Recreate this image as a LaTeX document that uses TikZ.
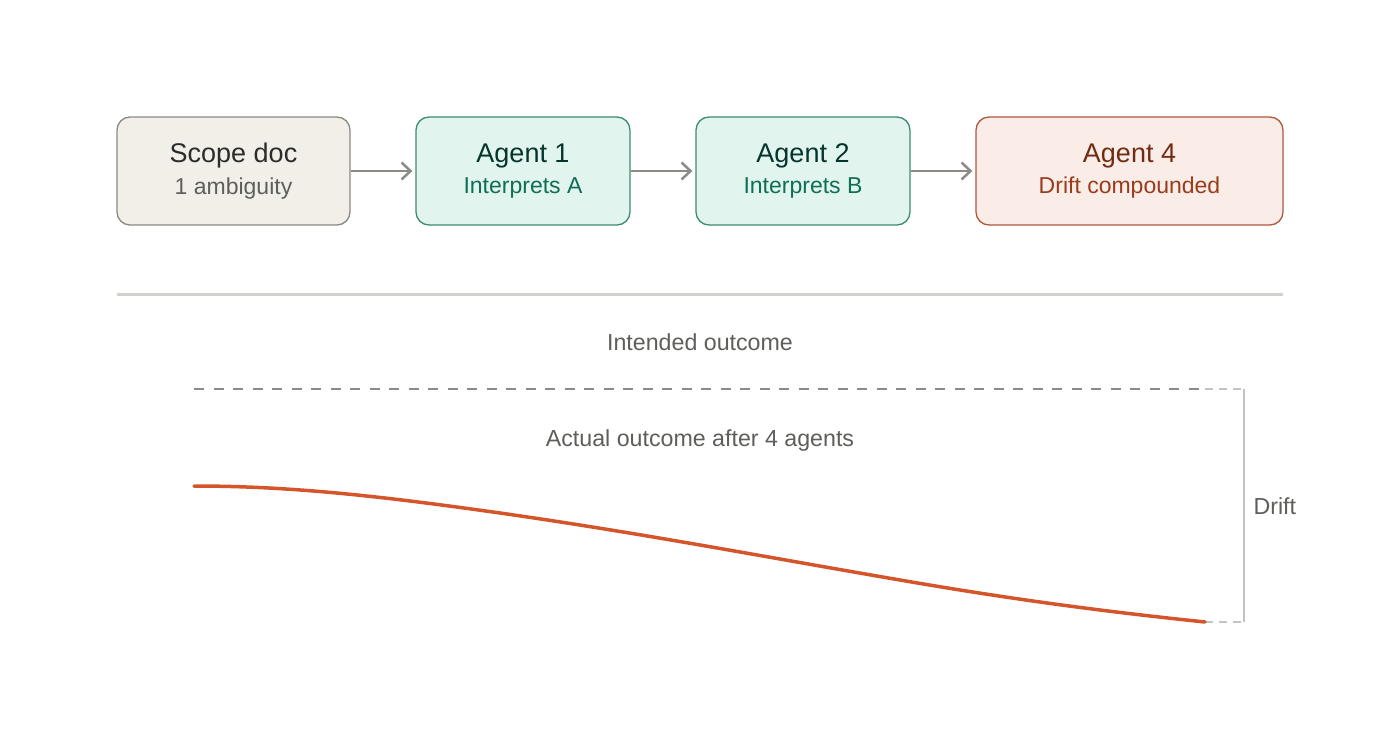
\documentclass[tikz,border=0pt]{standalone}
\usepackage{fontspec}
\setmainfont{Liberation Sans}
\usetikzlibrary{arrows.meta}

\definecolor{docfill}{HTML}{F1EFE8}
\definecolor{docline}{HTML}{8A8985}
\definecolor{doctext}{HTML}{2C2C2A}
\definecolor{docsub}{HTML}{5F5E5A}
\definecolor{agfill}{HTML}{E1F5EE}
\definecolor{agline}{HTML}{3D8C6F}
\definecolor{agtext}{HTML}{04342C}
\definecolor{agsub}{HTML}{0F6E56}
\definecolor{drfill}{HTML}{FAECE7}
\definecolor{drline}{HTML}{B0583B}
\definecolor{drtext}{HTML}{712B13}
\definecolor{drsub}{HTML}{993C1D}
\definecolor{flow}{HTML}{8C8B86}
\definecolor{rule}{HTML}{D3D1CC}
\definecolor{faint}{HTML}{C4C3BF}
\definecolor{curve}{HTML}{D4552A}

\newcommand{\boxtitle}{\fontsize{27}{30}\selectfont}
\newcommand{\boxsub}{\fontsize{23}{24}\selectfont}

\begin{document}
\begin{tikzpicture}[x=1pt,y=-1pt,
    stage/.style={rounded corners=13pt, line width=1.3pt, minimum height=108pt,
        align=center, inner sep=0pt},
    flowline/.style={line width=2.5pt, flow, shorten >=3pt,
        -{Straight Barb[length=9pt,width=17pt,line width=2.5pt]}},
    caption/.style={docsub, font=\fontsize{23.2}{26}\selectfont}]
\useasboundingbox[fill=white] (0,0) rectangle (1400,739);

\node [stage, fill=docfill, draw=docline, minimum width=233pt] (scope) at (233.5,171)
    {{\color{doctext}\boxtitle Scope doc}\\[8pt]{\color{docsub}\boxsub 1 ambiguity}};
\node [stage, fill=agfill, draw=agline, minimum width=214pt] (ag1) at (523,171)
    {{\color{agtext}\boxtitle Agent 1}\\[8pt]{\color{agsub}\boxsub Interprets A}};
\node [stage, fill=agfill, draw=agline, minimum width=214pt] (ag2) at (803,171)
    {{\color{agtext}\boxtitle Agent 2}\\[8pt]{\color{agsub}\boxsub Interprets B}};
\node [stage, fill=drfill, draw=drline, minimum width=307pt] (ag4) at (1129.5,171)
    {{\color{drtext}\boxtitle Agent 4}\\[8pt]{\color{drsub}\boxsub Drift compounded}};

\draw [flowline] (scope) -- (ag1);
\draw [flowline] (ag1) -- (ag2);
\draw [flowline] (ag2) -- (ag4);

\draw [rule, line width=3pt] (117,294) -- (1283,294);

\node [caption] (intended) at (700,342) {Intended outcome};
\node [caption] (actual) at (700,440) {Actual outcome after 4 agents};
\node [caption, anchor=west] (drift) at (1250,506) {Drift};

\coordinate (goal0) at (194,389);
\coordinate (goal1) at (1205,389);
\coordinate (goal2) at (1245,389);
\coordinate (end0) at (1205,622);
\coordinate (end1) at (1245,622);

\draw [flow, line width=2pt, dash pattern=on 10pt off 9.5pt] (goal0) -- (goal1);
\draw [faint, line width=2pt, dash pattern=on 8pt off 6pt] (goal1) -- (goal2);
\draw [faint, line width=2pt, dash pattern=on 8pt off 6pt] (end0) -- (end1);
\draw [faint, line width=1.8pt] (1244,389) -- (1244,622);

\draw [curve, line width=3.5pt, line cap=round] (194,486)
    .. controls (290,486) and (380,496) .. (500,513)
    .. controls (640,533) and (760,556) .. (900,580)
    .. controls (1010,599) and (1100,611) .. (1205,622);

\end{tikzpicture}
\end{document}
